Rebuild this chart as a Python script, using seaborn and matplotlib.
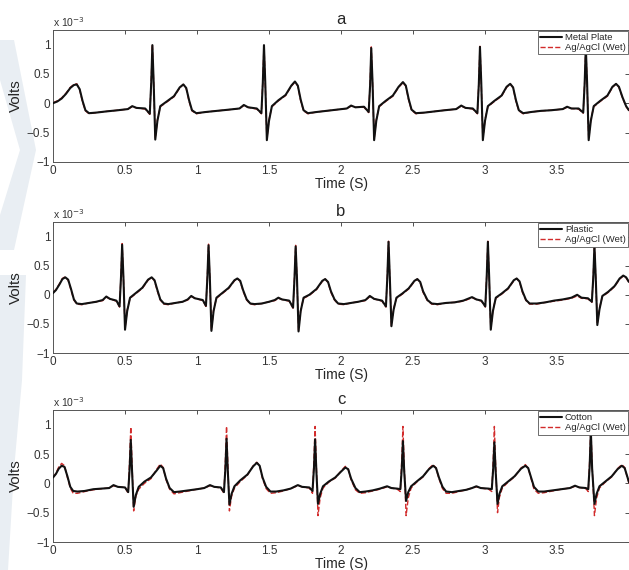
import matplotlib
matplotlib.use("Agg")
import matplotlib.pyplot as plt
from matplotlib.patches import Polygon
import seaborn as sns

# ---- panel a : metal plate vs wet Ag/AgCl (values in 1e-3 V)
time_a = [0.00, 0.03, 0.06, 0.09, 0.12, 0.145, 0.165, 0.185, 0.205, 0.225,
          0.25, 0.30, 0.37, 0.45, 0.52, 0.55, 0.58, 0.64, 0.672, 0.682, 0.69, 0.699, 0.71, 0.725, 0.745, 0.79, 0.84, 0.88, 0.905, 0.925, 0.945, 0.965,
          0.995, 1.06, 1.14, 1.22, 1.295, 1.325, 1.355, 1.415, 1.447, 1.457, 1.465, 1.474, 1.485, 1.50, 1.52, 1.565, 1.615, 1.655, 1.68, 1.70, 1.72, 1.74,
          1.77, 1.83, 1.90, 1.97, 2.04, 2.07, 2.10, 2.16, 2.192, 2.202, 2.21, 2.219, 2.23, 2.245, 2.265, 2.31, 2.36, 2.40, 2.43, 2.45, 2.47, 2.49,
          2.52, 2.58, 2.65, 2.72, 2.80, 2.835, 2.865, 2.915, 2.947, 2.957, 2.965, 2.974, 2.985, 3.00, 3.02, 3.065, 3.115, 3.15, 3.175, 3.195, 3.215, 3.235,
          3.265, 3.32, 3.39, 3.46, 3.54, 3.57, 3.60, 3.65, 3.682, 3.692, 3.70, 3.709, 3.72, 3.735, 3.755, 3.80, 3.85, 3.885, 3.91, 3.93, 3.955, 3.98, 4.00]
metal_a = [0.00, 0.03, 0.08, 0.16, 0.26, 0.31, 0.32, 0.24, 0.04, -0.12,
           -0.17, -0.16, -0.14, -0.12, -0.10, -0.05, -0.08, -0.09, -0.18, 0.35, 0.99, 0.35, -0.62, -0.30, -0.05, 0.03, 0.12, 0.27, 0.32, 0.26, 0.05, -0.12,
           -0.17, -0.15, -0.13, -0.11, -0.09, -0.03, -0.07, -0.09, -0.17, 0.35, 0.99, 0.35, -0.63, -0.30, -0.05, 0.05, 0.14, 0.30, 0.37, 0.30, 0.06, -0.12,
           -0.17, -0.15, -0.13, -0.11, -0.09, -0.04, -0.07, -0.06, -0.15, 0.30, 0.94, 0.35, -0.63, -0.30, -0.05, 0.04, 0.13, 0.28, 0.36, 0.30, 0.07, -0.11,
           -0.17, -0.16, -0.14, -0.12, -0.10, -0.04, -0.08, -0.09, -0.17, 0.32, 0.96, 0.35, -0.63, -0.30, -0.05, 0.04, 0.13, 0.28, 0.33, 0.27, 0.05, -0.12,
           -0.17, -0.15, -0.13, -0.12, -0.10, -0.06, -0.09, -0.09, -0.16, 0.33, 0.96, 0.35, -0.63, -0.30, -0.05, 0.04, 0.13, 0.28, 0.33, 0.28, 0.10, -0.05, -0.12]
wet_a = [0.01, 0.04, 0.09, 0.17, 0.27, 0.32, 0.33, 0.23, 0.02, -0.13,
         -0.18, -0.16, -0.14, -0.12, -0.10, -0.06, -0.08, -0.10, -0.19, 0.38, 1.00, 0.33, -0.60, -0.28, -0.06, 0.02, 0.11, 0.26, 0.32, 0.25, 0.03, -0.13,
         -0.18, -0.15, -0.13, -0.11, -0.09, -0.04, -0.07, -0.10, -0.18, 0.38, 1.00, 0.33, -0.61, -0.28, -0.06, 0.04, 0.13, 0.29, 0.36, 0.29, 0.04, -0.13,
         -0.18, -0.15, -0.13, -0.11, -0.09, -0.05, -0.07, -0.07, -0.16, 0.33, 0.96, 0.33, -0.61, -0.28, -0.06, 0.03, 0.12, 0.27, 0.35, 0.29, 0.05, -0.12,
         -0.18, -0.16, -0.14, -0.12, -0.10, -0.05, -0.08, -0.10, -0.18, 0.35, 0.97, 0.33, -0.61, -0.28, -0.06, 0.03, 0.12, 0.27, 0.33, 0.26, 0.03, -0.13,
         -0.18, -0.15, -0.13, -0.12, -0.10, -0.07, -0.09, -0.10, -0.17, 0.36, 0.97, 0.33, -0.61, -0.28, -0.06, 0.03, 0.12, 0.27, 0.33, 0.27, 0.09, -0.06, -0.13]

# ---- panel b : plastic
time_b = [0.00, 0.02, 0.045, 0.065, 0.085, 0.105, 0.125, 0.145, 0.165,
          0.20, 0.25, 0.30, 0.345, 0.37, 0.395, 0.44, 0.462, 0.472, 0.48, 0.489, 0.50, 0.515, 0.535, 0.575, 0.62, 0.66, 0.685, 0.705, 0.725, 0.745, 0.77,
          0.80, 0.85, 0.90, 0.935, 0.96, 0.985, 1.04, 1.062, 1.072, 1.08, 1.089, 1.10, 1.115, 1.135, 1.175, 1.22, 1.26, 1.28, 1.30, 1.32, 1.345, 1.37,
          1.40, 1.45, 1.50, 1.54, 1.565, 1.59, 1.64, 1.667, 1.677, 1.685, 1.694, 1.705, 1.72, 1.74, 1.78, 1.83, 1.87, 1.89, 1.91, 1.93, 1.955, 1.98,
          2.02, 2.07, 2.12, 2.17, 2.20, 2.23, 2.285, 2.312, 2.322, 2.33, 2.339, 2.35, 2.365, 2.385, 2.425, 2.47, 2.51, 2.53, 2.55, 2.57, 2.60, 2.63,
          2.67, 2.73, 2.79, 2.85, 2.91, 2.94, 2.975, 3.002, 3.012, 3.02, 3.029, 3.04, 3.055, 3.075, 3.115, 3.16, 3.20, 3.22, 3.24, 3.26, 3.285, 3.31,
          3.36, 3.42, 3.48, 3.54, 3.60, 3.64, 3.67, 3.715, 3.742, 3.752, 3.76, 3.769, 3.78, 3.795, 3.815, 3.855, 3.90, 3.935, 3.96, 3.98, 4.00]
plastic_b = [0.03, 0.08, 0.18, 0.27, 0.30, 0.26, 0.10, -0.08, -0.15,
             -0.16, -0.14, -0.12, -0.09, -0.03, -0.07, -0.10, -0.20, 0.30, 0.86, 0.30, -0.60, -0.28, -0.05, 0.03, 0.12, 0.26, 0.30, 0.25, 0.08, -0.08, -0.15,
             -0.16, -0.14, -0.12, -0.08, -0.02, -0.06, -0.09, -0.19, 0.30, 0.85, 0.30, -0.62, -0.28, -0.05, 0.03, 0.12, 0.25, 0.28, 0.24, 0.08, -0.08, -0.15,
             -0.16, -0.15, -0.12, -0.09, -0.05, -0.08, -0.10, -0.22, 0.28, 0.83, 0.30, -0.63, -0.28, -0.05, 0.00, 0.10, 0.24, 0.27, 0.22, 0.06, -0.08, -0.15,
             -0.16, -0.14, -0.12, -0.09, -0.02, -0.07, -0.10, -0.20, 0.32, 0.91, 0.30, -0.54, -0.26, -0.05, 0.02, 0.11, 0.24, 0.27, 0.22, 0.06, -0.09, -0.15,
             -0.16, -0.14, -0.13, -0.10, -0.04, -0.08, -0.10, -0.20, 0.32, 0.91, 0.30, -0.60, -0.28, -0.05, 0.02, 0.11, 0.25, 0.28, 0.23, 0.06, -0.09, -0.15,
             -0.15, -0.13, -0.10, -0.08, -0.05, 0.00, -0.05, -0.06, -0.12, 0.30, 0.85, 0.30, -0.52, -0.25, -0.02, 0.05, 0.15, 0.28, 0.33, 0.30, 0.22]
wet_b = [0.04, 0.09, 0.19, 0.28, 0.31, 0.25, 0.08, -0.09, -0.16,
         -0.17, -0.14, -0.12, -0.10, -0.04, -0.07, -0.11, -0.21, 0.33, 0.88, 0.28, -0.58, -0.26, -0.06, 0.02, 0.11, 0.25, 0.30, 0.24, 0.06, -0.09, -0.16,
         -0.17, -0.14, -0.12, -0.09, -0.03, -0.06, -0.10, -0.20, 0.33, 0.87, 0.28, -0.60, -0.26, -0.06, 0.02, 0.11, 0.24, 0.28, 0.23, 0.06, -0.09, -0.16,
         -0.17, -0.15, -0.12, -0.10, -0.06, -0.08, -0.11, -0.23, 0.31, 0.85, 0.28, -0.61, -0.26, -0.06, -0.01, 0.09, 0.23, 0.27, 0.21, 0.04, -0.09, -0.16,
         -0.17, -0.14, -0.12, -0.10, -0.03, -0.07, -0.11, -0.21, 0.35, 0.92, 0.28, -0.53, -0.24, -0.06, 0.01, 0.10, 0.23, 0.27, 0.21, 0.04, -0.10, -0.16,
         -0.17, -0.14, -0.13, -0.11, -0.05, -0.08, -0.11, -0.21, 0.35, 0.92, 0.28, -0.58, -0.26, -0.06, 0.01, 0.10, 0.24, 0.28, 0.22, 0.04, -0.10, -0.16,
         -0.16, -0.13, -0.11, -0.09, -0.06, -0.02, -0.06, -0.07, -0.13, 0.33, 0.87, 0.28, -0.50, -0.23, -0.03, 0.04, 0.14, 0.27, 0.32, 0.29, 0.21]

# ---- panel c : cotton
time_c = [0.00, 0.02, 0.04, 0.06, 0.08, 0.10, 0.12, 0.14,
          0.17, 0.22, 0.28, 0.34, 0.39, 0.42, 0.45, 0.50, 0.522, 0.532, 0.54, 0.549, 0.56, 0.575, 0.595, 0.635, 0.68, 0.72, 0.745, 0.765, 0.785, 0.81, 0.84,
          0.88, 0.94, 1.00, 1.05, 1.09, 1.12, 1.165, 1.187, 1.197, 1.205, 1.214, 1.225, 1.24, 1.26, 1.30, 1.35, 1.39, 1.415, 1.435, 1.455, 1.48, 1.51,
          1.55, 1.60, 1.65, 1.70, 1.73, 1.78, 1.802, 1.812, 1.82, 1.829, 1.84, 1.855, 1.875, 1.915, 1.96, 2.00, 2.03, 2.05, 2.07, 2.10, 2.13,
          2.17, 2.22, 2.27, 2.32, 2.35, 2.39, 2.412, 2.422, 2.43, 2.439, 2.452, 2.467, 2.487, 2.525, 2.57, 2.61, 2.64, 2.66, 2.68, 2.705, 2.73,
          2.77, 2.82, 2.87, 2.91, 2.94, 2.97, 3.025, 3.047, 3.057, 3.065, 3.074, 3.087, 3.10, 3.12, 3.16, 3.205, 3.25, 3.28, 3.30, 3.32, 3.34, 3.37,
          3.41, 3.47, 3.53, 3.59, 3.625, 3.655, 3.70, 3.717, 3.727, 3.735, 3.744, 3.76, 3.775, 3.795, 3.835, 3.88, 3.92, 3.95, 3.97, 3.985, 4.00]
cotton_c = [0.10, 0.16, 0.25, 0.30, 0.28, 0.12, -0.06, -0.13,
            -0.14, -0.13, -0.10, -0.09, -0.08, -0.03, -0.06, -0.07, -0.15, 0.25, 0.74, 0.20, -0.40, -0.20, -0.06, 0.03, 0.10, 0.22, 0.30, 0.26, 0.08, -0.08, -0.15,
            -0.14, -0.12, -0.10, -0.08, -0.03, -0.06, -0.07, -0.15, 0.25, 0.76, 0.20, -0.36, -0.18, -0.05, 0.05, 0.15, 0.29, 0.35, 0.30, 0.10, -0.06, -0.14,
            -0.14, -0.12, -0.09, -0.03, -0.06, -0.07, -0.13, 0.25, 0.75, 0.20, -0.35, -0.18, -0.05, 0.03, 0.10, 0.20, 0.27, 0.24, 0.08, -0.08, -0.15,
            -0.14, -0.12, -0.09, -0.05, -0.08, -0.09, -0.10, 0.25, 0.72, 0.20, -0.30, -0.15, -0.05, 0.03, 0.12, 0.24, 0.30, 0.26, 0.10, -0.06, -0.14,
            -0.15, -0.13, -0.11, -0.08, -0.05, -0.08, -0.09, -0.10, 0.25, 0.70, 0.20, -0.35, -0.18, -0.05, 0.03, 0.12, 0.25, 0.30, 0.26, 0.10, -0.06, -0.14,
            -0.14, -0.12, -0.10, -0.08, -0.04, -0.07, -0.08, -0.10, 0.30, 0.90, 0.25, -0.35, -0.18, -0.05, 0.03, 0.12, 0.24, 0.30, 0.26, 0.14, 0.02]
wet_c = [0.10, 0.17, 0.28, 0.34, 0.30, 0.10, -0.08, -0.17,
         -0.17, -0.14, -0.11, -0.09, -0.08, -0.04, -0.06, -0.07, -0.17, 0.40, 0.96, 0.30, -0.47, -0.22, -0.10, 0.00, 0.08, 0.24, 0.33, 0.27, 0.06, -0.10, -0.18,
         -0.16, -0.13, -0.10, -0.08, -0.04, -0.06, -0.08, -0.17, 0.40, 0.97, 0.30, -0.47, -0.22, -0.08, 0.03, 0.14, 0.30, 0.36, 0.30, 0.08, -0.09, -0.17,
         -0.16, -0.13, -0.09, -0.04, -0.06, -0.08, -0.17, 0.40, 0.97, 0.30, -0.55, -0.25, -0.08, 0.02, 0.09, 0.21, 0.29, 0.24, 0.06, -0.11, -0.17,
         -0.16, -0.13, -0.10, -0.06, -0.08, -0.10, -0.14, 0.40, 0.97, 0.30, -0.55, -0.25, -0.08, 0.02, 0.11, 0.25, 0.32, 0.26, 0.08, -0.09, -0.17,
         -0.17, -0.14, -0.11, -0.08, -0.06, -0.08, -0.10, -0.14, 0.40, 0.97, 0.30, -0.50, -0.24, -0.08, 0.02, 0.11, 0.26, 0.32, 0.26, 0.08, -0.10, -0.17,
         -0.16, -0.13, -0.10, -0.08, -0.05, -0.07, -0.09, -0.14, 0.40, 0.97, 0.30, -0.55, -0.25, -0.08, 0.02, 0.11, 0.25, 0.32, 0.27, 0.13, 0.00]

panel_titles = ["a", "b", "c"]
electrode_names = ["Metal Plate", "Plastic", "Cotton"]
reference_name = "Ag/AgCl (Wet)"
x_ticks = [0, 0.5, 1, 1.5, 2, 2.5, 3, 3.5]
x_labels = ["0", "0.5", "1", "1.5", "2", "2.5", "3", "3.5"]
y_ticks = [-1, -0.5, 0, 0.5, 1]
y_labels = ["\u22121", "\u22120.5", "0", "0.5", "1"]

sns.set_style("white")
plt.rcParams["font.family"] = ["Liberation Sans", "DejaVu Sans"]
plt.rcParams["xtick.direction"] = "in"
plt.rcParams["ytick.direction"] = "in"
plt.rcParams["xtick.top"] = True
plt.rcParams["ytick.right"] = True

fig = plt.figure(figsize=(6.29, 5.70), dpi=100)

# faint watermark band on the left margin (kept underneath everything)
W, H = 629.0, 570.0
for pts in ([(0, 40), (14, 40), (36, 150), (14, 250), (0, 250), (0, 215), (20, 150), (0, 80)],
            [(0, 275), (26, 275), (22, 380), (14, 470), (8, 570), (0, 570)]):
    fig.patches.append(Polygon([(x / W, 1 - y / H) for x, y in pts], closed=True,
                               transform=fig.transFigure, facecolor="#e9eef3",
                               edgecolor="none", zorder=-5))

positions = [[0.0843, 0.716, 0.9157, 0.2316],
             [0.0843, 0.3807, 0.9157, 0.2298],
             [0.0843, 0.0491, 0.9157, 0.2316]]
series = [(time_a, metal_a, wet_a), (time_b, plastic_b, wet_b), (time_c, cotton_c, wet_c)]

for i in range(3):
    t, v_el, v_wet = series[i]
    ax = fig.add_axes(positions[i])
    ax.patch.set_alpha(0)
    sns.lineplot(x=t, y=v_el, ax=ax, color="#111111", lw=1.5, sort=False,
                 estimator=None, label=electrode_names[i], zorder=3)
    sns.lineplot(x=t, y=v_wet, ax=ax, color="#d22b2b", lw=1.0, linestyle="--",
                 sort=False, estimator=None, label=reference_name, zorder=2)
    ax.set_xlim(0, 4)
    ax.set_ylim(-1, 1.25)
    ax.set_xticks(x_ticks)
    ax.set_xticklabels(x_labels)
    ax.set_yticks(y_ticks)
    ax.set_yticklabels(y_labels)
    ax.tick_params(labelsize=8.5, colors="#333333", length=3, width=0.6, pad=2)
    for sp in ax.spines.values():
        sp.set_linewidth(0.7)
        sp.set_color("#555555")
    ax.set_title(panel_titles[i], fontsize=12, pad=4)
    ax.set_xlabel("Time (S)", fontsize=10, labelpad=0)
    ax.set_ylabel("Volts", fontsize=11, labelpad=3)
    ax.text(0.0, 1.025, "x 10$^{-3}$", transform=ax.transAxes, fontsize=7.5,
            color="#333333")
    leg = ax.legend(loc="upper right", fontsize=6.8, frameon=True, fancybox=False,
                    framealpha=1, edgecolor="#555555", borderaxespad=0.1,
                    handlelength=2.3, handletextpad=0.3, borderpad=0.25,
                    labelspacing=0.1)
    leg.get_frame().set_linewidth(0.6)
    leg.set_zorder(10)

fig.savefig("out.png", dpi=100)
